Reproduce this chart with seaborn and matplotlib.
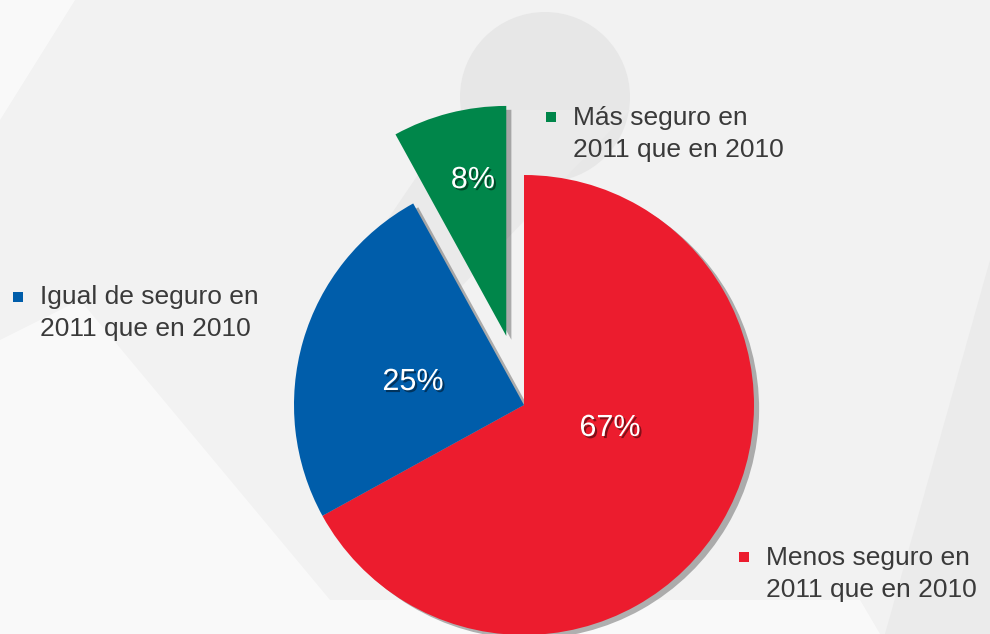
import numpy as np
import matplotlib
matplotlib.use("Agg")
import matplotlib.pyplot as plt
import matplotlib.patheffects as pe
from matplotlib.patches import Rectangle, Circle, Polygon
import seaborn as sns

# ---- data ----
categories = ["Menos seguro en\n2011 que en 2010",
              "Igual de seguro en\n2011 que en 2010",
              "Más seguro en\n2011 que en 2010"]
values = [67, 25, 8]
colors = ["#EC1C2E", "#005DAA", "#00864A"]
explode = [0, 0, 0.31]

sns.set_theme(style="white")
plt.rcParams['font.family'] = ['Liberation Sans', 'DejaVu Sans']
palette = sns.color_palette(colors)

W, H = 990, 634
fig = plt.figure(figsize=(9.9, 6.34), dpi=100)
fig.patch.set_facecolor('#f2f2f2')

# ---- background (pixel coordinates) ----
bg = fig.add_axes([0, 0, 1, 1], zorder=0)
bg.set_xlim(0, W); bg.set_ylim(H, 0); bg.axis('off')
bg.add_patch(Polygon([(0, 340), (0, 634), (880, 634), (860, 600), (330, 600), (80, 300)],
                     closed=True, color='white', alpha=0.6, lw=0))
bg.add_patch(Polygon([(0, 120), (75, 0), (0, 0)], closed=True, color='white', alpha=0.6, lw=0))
bg.add_patch(Polygon([(990, 260), (990, 634), (885, 634)], closed=True, color='#ebebeb', lw=0))
bg.add_patch(Circle((545, 97), 85, color='#e7e7e7', lw=0))
bg.add_patch(Polygon([(462, 110), (630, 110), (420, 330), (360, 260)], closed=True,
                     color='#eaeaea', lw=0))

# ---- pie ----
cx, cy, R = 524, 405, 230
ax = fig.add_axes([0, 0, 1, 1], zorder=1)
ax.set_facecolor('none')
wedges, _ = ax.pie(values, colors=palette, startangle=90, counterclock=False,
                   explode=explode, radius=1, wedgeprops=dict(linewidth=0),
                   shadow={'ox': 0.016, 'oy': -0.012, 'facecolor': '#555555',
                           'edgecolor': 'none', 'alpha': 0.45})
ax.set_xlim(-cx / R, (W - cx) / R)
ax.set_ylim(-(H - cy) / R, cy / R)
ax.set_aspect('auto')
ax.axis('off')

pct_pos = [(0.374, -0.10), (-0.483, 0.10), (-0.222, 0.978)]
for v, (x, y) in zip(values, pct_pos):
    ax.text(x, y, f"{v}%", color='white', fontsize=22, ha='center', va='center',
            path_effects=[pe.withSimplePatchShadow(offset=(1.5, -1.5),
                                                   shadow_rgbFace='black', alpha=0.45)])

# ---- legend labels (pixel coordinates) ----
ov = fig.add_axes([0, 0, 1, 1], zorder=2)
ov.set_xlim(0, W); ov.set_ylim(H, 0); ov.axis('off'); ov.set_facecolor('none')
marker_pos = [(744, 557), (18, 297), (551, 117)]
text_pos = [(766, 574), (40, 313), (573, 134)]
for lab, col, (mx, my), (tx, ty) in zip(categories, palette, marker_pos, text_pos):
    ov.add_patch(Rectangle((mx - 5, my - 5), 10, 10, color=col, lw=0))
    ov.text(tx, ty, lab, fontsize=19, color='#3a3a3a', ha='left', va='center',
            linespacing=1.42)

fig.savefig("out.png", dpi=100, facecolor=fig.get_facecolor())
